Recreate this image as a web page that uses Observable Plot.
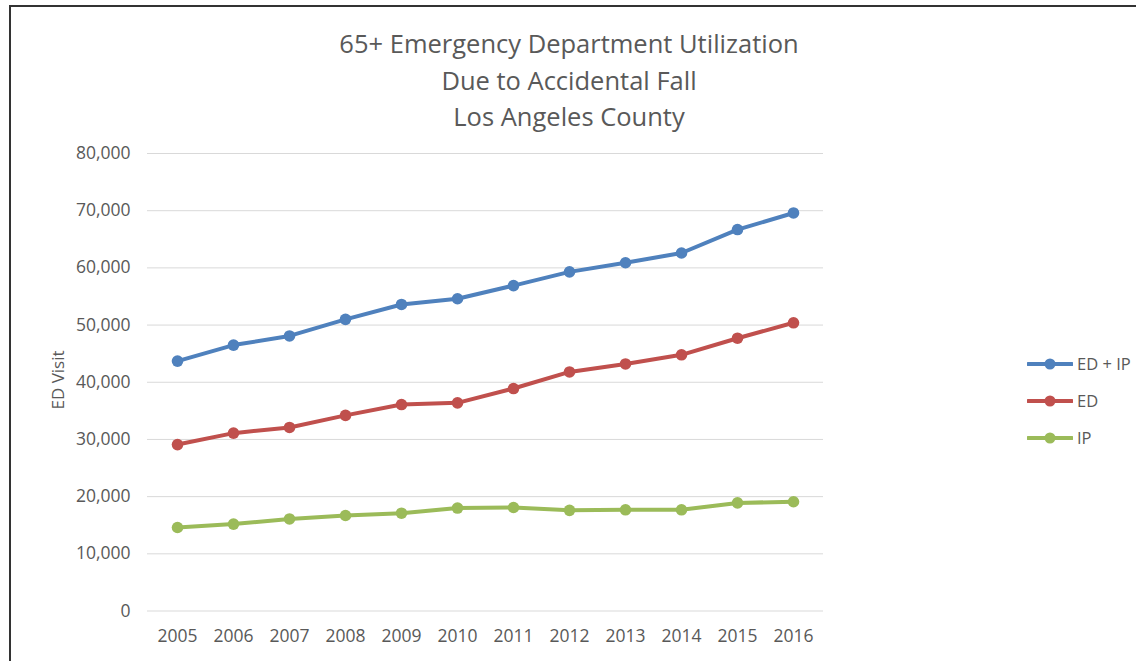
<!DOCTYPE html>
<html><head><meta charset="utf-8">
<script src="https://cdn.jsdelivr.net/npm/d3@7"></script>
<script src="https://cdn.jsdelivr.net/npm/@observablehq/plot@0.6"></script>
<style>
body{margin:0;background:#fff;font-family:"Open Sans",sans-serif;color:#595959;width:1136px;height:661px;overflow:hidden;position:relative;}
#frame{position:absolute;left:9px;top:5px;width:1140px;height:700px;border-left:2px solid #333;border-top:2px solid #333;box-sizing:border-box;}
#title{position:absolute;left:0;top:25px;width:1138px;text-align:center;font-size:25.5px;line-height:36.7px;color:#595959;}
#ylab{position:absolute;left:57px;top:380px;transform:translate(-50%,-50%) rotate(-90deg);font-size:17px;white-space:nowrap;color:#595959;}
#chart{position:absolute;left:0;top:140px;}
#legend{position:absolute;left:1027px;top:345px;}
.item{display:flex;align-items:center;height:37px;font-size:16.5px;color:#595959;}
.item svg{margin-right:4px;}
</style>
</head><body>
<div id="frame"></div>
<div id="title">65+ Emergency Department Utilization<br>Due to Accidental Fall<br>Los Angeles County</div>
<div id="ylab">ED Visit</div>
<div id="chart"></div>
<div id="legend"></div>
<script>
const years = ["2005","2006","2007","2008","2009","2010","2011","2012","2013","2014","2015","2016"];
const seriesNames = ["ED + IP","ED","IP"];
const seriesColors = ["#4F81BD","#C0504D","#9BBB59"];
const edip = [43700,46500,48100,51000,53600,54600,56900,59300,60900,62600,66700,69600];
const ed   = [29100,31100,32100,34200,36100,36400,38900,41800,43200,44800,47700,50400];
const ip   = [14600,15200,16100,16700,17100,18000,18100,17600,17700,17700,18900,19100];
const yTicks = [0,10000,20000,30000,40000,50000,60000,70000,80000];

const seriesValues = [edip, ed, ip];
const data = [];
seriesNames.forEach((s,i)=>years.forEach((y,j)=>data.push({year:y, series:s, value:seriesValues[i][j]})));

const chart = Plot.plot({
  width:1136, height:521,
  marginLeft:147, marginRight:313, marginTop:13, marginBottom:50.5,
  style:{fontFamily:"Open Sans, sans-serif", fontSize:"17.5px", color:"#595959", background:"transparent"},
  x:{type:"point", domain:years, padding:0.5},
  y:{domain:[0,80000]},
  color:{domain:seriesNames, range:seriesColors},
  marks:[
    Plot.gridY(yTicks, {stroke:"#d9d9d9", strokeOpacity:1, strokeWidth:1}),
    Plot.axisY(yTicks, {tickSize:0, tickPadding:17, tickFormat:d3.format(","), label:null, fill:"#595959"}),
    Plot.axisX({tickSize:0, tickPadding:19, label:null, fill:"#595959"}),
    Plot.line(data, {x:"year", y:"value", z:"series", stroke:"series", strokeWidth:4, strokeLinecap:"round", strokeLinejoin:"round"}),
    Plot.dot(data, {x:"year", y:"value", fill:"series", r:5.8})
  ]
});
document.getElementById("chart").appendChild(chart);

const leg = document.getElementById("legend");
seriesNames.forEach((s,i)=>{
  const d = document.createElement("div");
  d.className="item";
  d.innerHTML = `<svg width="46" height="14"><line x1="1" y1="7" x2="45" y2="7" stroke="${seriesColors[i]}" stroke-width="4" stroke-linecap="round"/><circle cx="23" cy="7" r="5.5" fill="${seriesColors[i]}"/></svg><span>${s}</span>`;
  leg.appendChild(d);
});
</script>
</body></html>
